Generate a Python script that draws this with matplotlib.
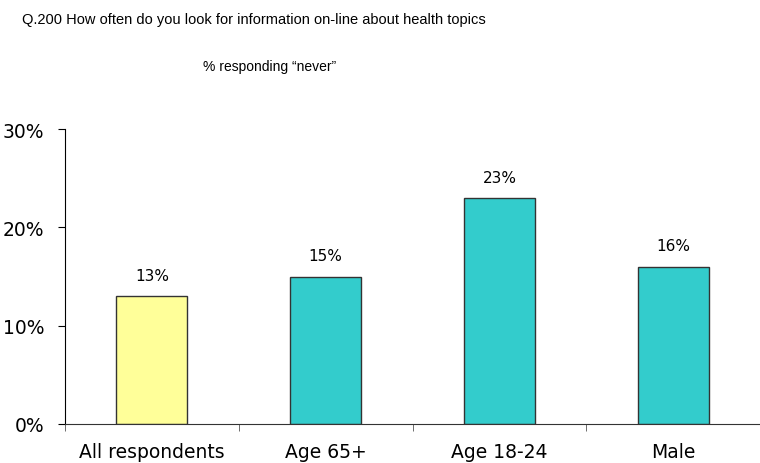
import matplotlib.pyplot as plt
import numpy as np

categories = ["All respondents", "Age 65+", "Age 18-24", "Male"]
values = [13, 15, 23, 16]
colors = ["#FFFF99", "#33CCCC", "#33CCCC", "#33CCCC"]
yticks = [0, 10, 20, 30]

fig = plt.figure(figsize=(7.6, 4.64), dpi=100)
ax = fig.add_axes([65 / 760, 1 - 425 / 464, 1 - 65 / 760, (425 - 130) / 464])

x = np.arange(len(categories))
ax.bar(x, values, width=0.41, color=colors, edgecolor="#333333", linewidth=1)

for xi, v in zip(x, values):
    ax.text(xi, v + 1.35, f"{v}%", ha="center", va="bottom", fontsize=11, family="DejaVu Sans")

ax.set_xlim(-0.5, len(categories) - 0.5)
ax.set_ylim(0, 30)
ax.set_yticks(yticks)
ax.set_yticklabels([f"{t}%" for t in yticks], fontsize=13.5)
ax.set_xticks(x)
ax.set_xticklabels(categories, fontsize=13.5)
ax.tick_params(axis="x", length=0, pad=13)
ax.set_xticks(np.arange(-0.5, len(categories) - 0.5), minor=True)
ax.tick_params(axis="x", which="minor", length=5, color="#555555")
ax.tick_params(axis="y", length=5, pad=10)

for s in ["top", "right"]:
    ax.spines[s].set_visible(False)
ax.spines["bottom"].set_color("#333333")

fig.text(22 / 760, 1 - 20 / 464, "Q.200 How often do you look for information on-line about health topics",
         fontsize=10.5, family="Liberation Sans", va="center", ha="left")
fig.text(270 / 760, 1 - 67 / 464, "% responding \u201cnever\u201d",
         fontsize=10, family="Liberation Sans", va="center", ha="center")

fig.savefig("out.png", dpi=100)
